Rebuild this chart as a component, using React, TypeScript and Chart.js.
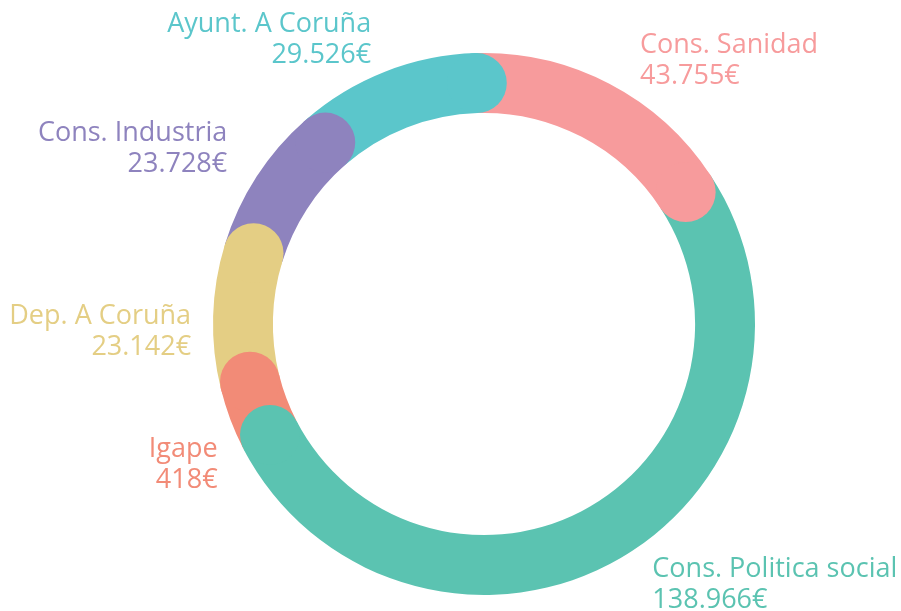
import React, { useEffect, useRef } from 'react';
import { Chart, registerables } from 'chart.js';

Chart.register(...registerables);

// ---- data ----
const categories = [
  'Cons. Sanidad',
  'Cons. Politica social',
  'Igape',
  'Dep. A Coruña',
  'Cons. Industria',
  'Ayunt. A Coruña',
];
const amounts = [43755, 138966, 418, 23142, 23728, 29526];
const colors = ['#F79B9C', '#5BC3B1', '#F28B77', '#E4CE84', '#8E83BE', '#5BC6CB'];

// smallest slices are shown with a minimum visible share of the ring
const MIN_SLICE_SHARE = 0.039;

const total = amounts.reduce((a, b) => a + b, 0);
const displayValues = amounts.map((v) => Math.max(v, total * MIN_SLICE_SHARE));

function formatEuro(v: number): string {
  return String(v).replace(/\B(?=(\d{3})+(?!\d))/g, '.') + '€';
}

// ---- label layout (px nudges from the automatic mid-angle anchor) ----
const FONT_SIZE = 27;
const LINE_GAP = 31;
const LABEL_DISTANCE = 35;
const LABEL_NUDGE: [number, number][] = [
  [2.5, 6],
  [2, -5],
  [20, 31.5],
  [13, 15],
  [0, -10.5],
  [-1, -1.5],
];

const capsAndLabels = {
  id: 'capsAndLabels',
  afterDatasetsDraw(chart: any) {
    const meta = chart.getDatasetMeta(0);
    const ctx = chart.ctx as CanvasRenderingContext2D;
    const arcs = meta.data;
    ctx.save();
    // rounded end caps, drawn last-to-first so each cap lies over the next slice
    for (let i = arcs.length - 1; i >= 0; i--) {
      const a = arcs[i].getProps(['x', 'y', 'endAngle', 'innerRadius', 'outerRadius'], true);
      const rMid = (a.innerRadius + a.outerRadius) / 2;
      const capR = (a.outerRadius - a.innerRadius) / 2;
      ctx.beginPath();
      ctx.arc(
        a.x + rMid * Math.cos(a.endAngle),
        a.y + rMid * Math.sin(a.endAngle),
        capR,
        0,
        Math.PI * 2
      );
      ctx.fillStyle = colors[i];
      ctx.fill();
    }
    // outside labels
    ctx.font = `${FONT_SIZE}px "Open Sans"`;
    ctx.textBaseline = 'alphabetic';
    arcs.forEach((el: any, i: number) => {
      const a = el.getProps(['x', 'y', 'startAngle', 'endAngle', 'outerRadius'], true);
      const mid = (a.startAngle + a.endAngle) / 2;
      const r = a.outerRadius + LABEL_DISTANCE;
      const right = Math.cos(mid) >= 0;
      let x = a.x + r * Math.cos(mid) + (right ? 12 : 0) + LABEL_NUDGE[i][0];
      const y = a.y + r * Math.sin(mid) + LABEL_NUDGE[i][1];
      ctx.textAlign = right ? 'left' : 'right';
      ctx.fillStyle = colors[i];
      const capHalf = FONT_SIZE * 0.357;
      ctx.fillText(categories[i], x, y - LINE_GAP / 2 + capHalf);
      ctx.fillText(formatEuro(amounts[i]), x, y + LINE_GAP / 2 + capHalf);
    });
    ctx.restore();
  },
};

export default function App() {
  const canvasRef = useRef<HTMLCanvasElement | null>(null);

  useEffect(() => {
    if (!canvasRef.current) return;
    const chart = new Chart(canvasRef.current, {
      type: 'doughnut',
      data: {
        labels: categories,
        datasets: [
          {
            data: displayValues,
            backgroundColor: colors,
            borderWidth: 0,
            hoverOffset: 0,
          },
        ],
      },
      options: {
        animation: false,
        responsive: false,
        rotation: -1.7,
        cutout: '77.9%',
        events: [],
        layout: { padding: { left: 213, right: 146, top: 53, bottom: 16 } },
        plugins: {
          legend: { display: false },
          tooltip: { enabled: false },
        },
      },
      plugins: [capsAndLabels],
    });
    return () => chart.destroy();
  }, []);

  return (
    <div style={{ position: 'absolute', left: 0, top: 0, width: 901, height: 611, background: '#fff' }}>
      <canvas ref={canvasRef} width={901} height={611} style={{ display: 'block' }} />
    </div>
  );
}
